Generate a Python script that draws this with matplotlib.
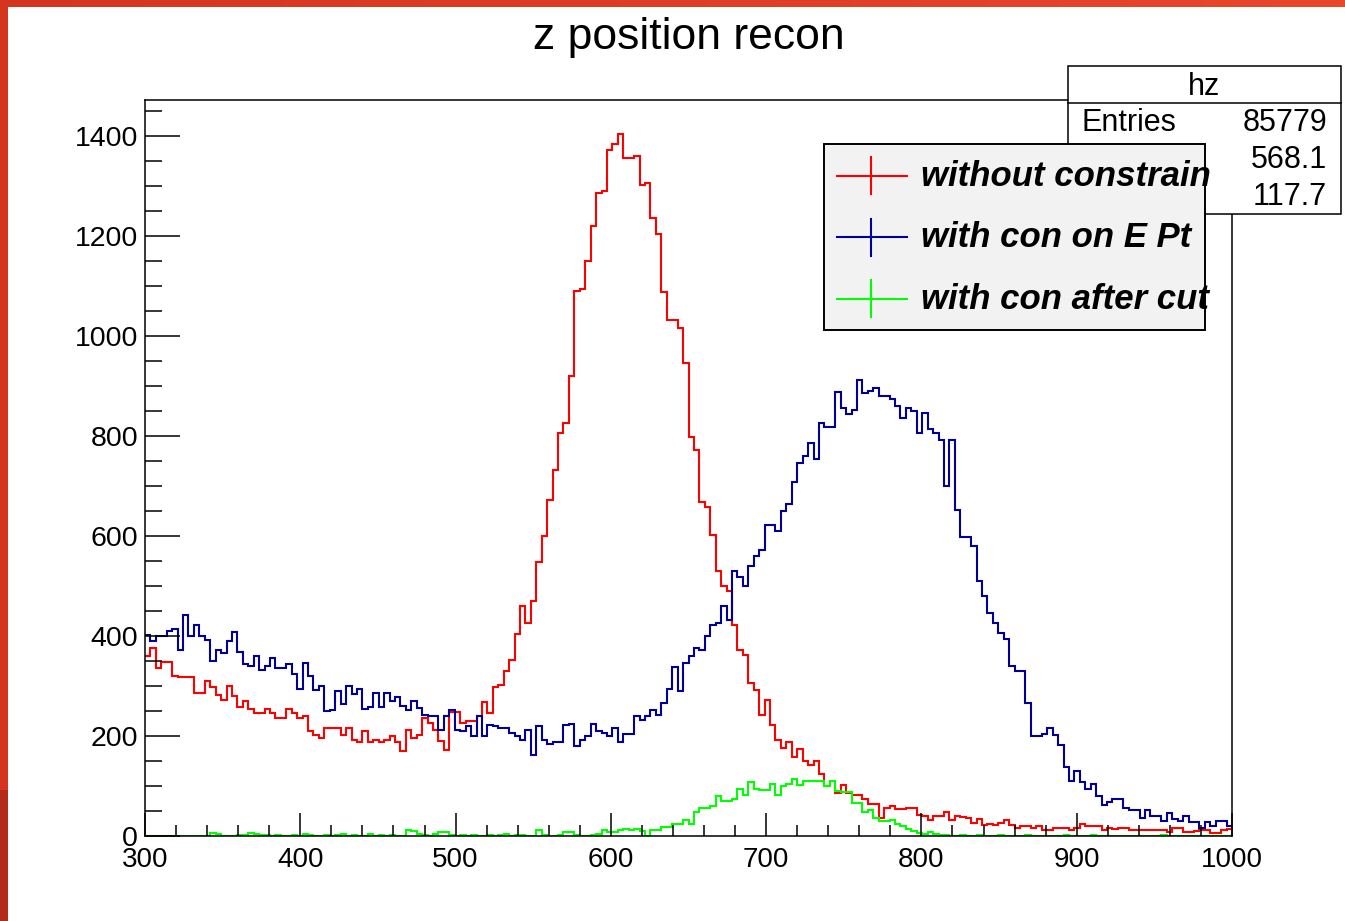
import numpy as np
import matplotlib
matplotlib.use('Agg')
from matplotlib import pyplot as plt
from matplotlib.patches import Rectangle

# hz : 200 bins between 300 and 1000
x_lo, x_hi, n_bins = 300, 1000, 200

# without constrain
red_counts = [
    360, 375, 335, 347, 347, 320, 317, 317, 317, 285,
    285, 309, 297, 282, 271, 300, 279, 257, 270, 254,
    245, 245, 253, 245, 235, 235, 254, 245, 235, 239,
    210, 202, 195, 215, 215, 215, 202, 215, 192, 187,
    210, 187, 192, 187, 192, 199, 187, 169, 212, 195,
    202, 235, 225, 212, 190, 171, 247, 247, 225, 229,
    229, 239, 267, 245, 297, 302, 329, 351, 403, 459,
    425, 469, 547, 599, 672, 731, 805, 825, 919, 1090,
    1093, 1149, 1220, 1285, 1290, 1372, 1384, 1403, 1355, 1355,
    1360, 1301, 1305, 1235, 1204, 1087, 1032, 1032, 1015, 945,
    797, 771, 667, 657, 602, 529, 499, 489, 422, 372,
    362, 305, 291, 242, 271, 222, 192, 175, 187, 157,
    174, 149, 141, 149, 124, 99, 109, 85, 102, 85,
    82, 82, 73, 64, 64, 35, 55, 59, 53, 53,
    55, 55, 42, 39, 32, 40, 40, 47, 31, 39,
    37, 35, 25, 34, 21, 24, 22, 25, 32, 22,
    15, 19, 19, 15, 19, 12, 12, 15, 15, 15,
    12, 15, 24, 19, 19, 19, 12, 15, 13, 15,
    15, 12, 12, 12, 12, 12, 12, 12, 8, 15,
    15, 8, 8, 10, 12, 12, 6, 6, 12, 14,
]

# with con on E Pt
blue_counts = [
    402, 389, 399, 399, 409, 413, 372, 442, 400, 422,
    400, 391, 349, 372, 365, 389, 407, 367, 344, 340,
    359, 332, 340, 355, 335, 335, 344, 324, 293, 345,
    319, 291, 300, 250, 252, 290, 264, 300, 284, 293,
    254, 257, 285, 257, 285, 269, 277, 260, 252, 269,
    255, 242, 239, 239, 212, 239, 251, 212, 209, 219,
    200, 240, 199, 222, 219, 215, 215, 205, 200, 192,
    212, 161, 219, 192, 184, 187, 187, 222, 224, 179,
    192, 200, 224, 209, 205, 199, 215, 187, 203, 203,
    239, 232, 239, 251, 241, 265, 293, 337, 289, 345,
    359, 375, 371, 399, 422, 425, 459, 432, 529, 517,
    500, 539, 559, 571, 622, 622, 609, 649, 664, 707,
    745, 759, 785, 753, 825, 817, 817, 887, 855, 844,
    852, 911, 885, 889, 895, 879, 879, 873, 860, 835,
    855, 849, 805, 845, 814, 805, 791, 700, 791, 652,
    597, 597, 579, 510, 480, 445, 425, 405, 394, 340,
    329, 329, 265, 200, 200, 204, 215, 201, 181, 137,
    110, 129, 107, 93, 103, 79, 62, 67, 74, 74,
    55, 51, 51, 35, 51, 40, 40, 29, 45, 33,
    29, 39, 27, 27, 15, 27, 19, 29, 29, 20,
]

# with con after cut
green_counts = [
    0, 0, 0, 0, 0, 0, 0, 0, 0, 0,
    0, 0, 6, 3, 0, 0, 0, 2, 1, 5,
    4, 1, 2, 0, 1, 0, 0, 1, 0, 3,
    1, 0, 0, 2, 0, 1, 3, 0, 2, 0,
    0, 3, 0, 1, 0, 2, 0, 0, 12, 9,
    4, 1, 0, 3, 7, 7, 1, 0, 2, 0,
    1, 0, 0, 2, 0, 1, 3, 0, 2, 1,
    0, 0, 12, 1, 0, 0, 2, 7, 7, 1,
    0, 0, 1, 3, 12, 8, 7, 11, 13, 11,
    13, 9, 0, 12, 12, 17, 17, 24, 24, 32,
    24, 47, 55, 55, 60, 79, 70, 70, 74, 93,
    82, 107, 93, 91, 91, 103, 82, 99, 103, 113,
    102, 109, 109, 109, 109, 99, 109, 89, 87, 87,
    65, 65, 47, 52, 35, 29, 29, 32, 24, 20,
    13, 9, 5, 3, 7, 3, 1, 1, 0, 0,
    2, 0, 0, 1, 0, 0, 0, 1, 0, 0,
    0, 0, 1, 0, 0, 0, 0, 0, 0, 2,
    0, 0, 0, 0, 1, 0, 0, 0, 0, 0,
    0, 0, 0, 0, 0, 0, 0, 1, 0, 0,
    0, 0, 0, 0, 0, 0, 0, 0, 0, 0,
]

legend_labels = ['without constrain', 'with con on E Pt', 'with con after cut']
line_colors = ['#ff0000', '#000099', '#00ff00']

stats_name = 'hz'
stats_labels = ['Entries', 'Mean', 'RMS']
stats_values = ['85779', '568.1', '117.7']

title = 'z position recon'

plt.rcParams['font.family'] = ['Liberation Sans', 'DejaVu Sans']

W, H = 1345, 921
fig = plt.figure(figsize=(W / 100, H / 100), dpi=100)
fig.patch.set_facecolor('white')

# main pad (pixel frame 145..1232 x 100..836)
ax = fig.add_axes([145 / W, 1 - 836 / H, (1232 - 145) / W, (836 - 100) / H])
edges = np.linspace(x_lo, x_hi, n_bins + 1)
for counts, col in zip([red_counts, blue_counts, green_counts], line_colors):
    ax.stairs(counts, edges, color=col, lw=1.5, baseline=None)

ax.set_xlim(x_lo, x_hi)
ax.set_ylim(0, 1471)
ax.set_xticks(np.arange(300, 1001, 100))
ax.set_xticks(np.arange(300, 1001, 20), minor=True)
ax.set_yticks(np.arange(0, 1401, 200))
ax.set_yticks(np.arange(0, 1451, 50), minor=True)
ax.tick_params(axis='x', which='major', direction='in', length=16.5, width=1.1,
               labelsize=20, pad=8, top=False)
ax.tick_params(axis='x', which='minor', direction='in', length=8, width=1.1, top=False)
ax.tick_params(axis='y', which='major', direction='in', length=25, width=1.1,
               labelsize=20.5, pad=5, right=False)
ax.tick_params(axis='y', which='minor', direction='in', length=12.5, width=1.1, right=False)
for sp in ax.spines.values():
    sp.set_linewidth(1.1)

# overlay in pixel coordinates for title, stats box, legend and frame border
ov = fig.add_axes([0, 0, 1, 1], zorder=10)
ov.set_xlim(0, W)
ov.set_ylim(H, 0)
ov.axis('off')

ov.text(689, 37, title, ha='center', va='center', fontsize=32)

# stats box
ov.add_patch(Rectangle((1068, 66), 273, 148, fc='white', ec='black', lw=1.1, zorder=2))
ov.plot([1068, 1341], [103, 103], color='black', lw=1.1, zorder=2)
ov.text(1204, 87, stats_name, ha='center', va='center', fontsize=22, zorder=2)
for k, (lab, val) in enumerate(zip(stats_labels, stats_values)):
    yy = 123 + 37 * k
    ov.text(1082, yy, lab, ha='left', va='center', fontsize=22, zorder=2)
    ov.text(1327, yy, val, ha='right', va='center', fontsize=22, zorder=2)

# legend
ov.add_patch(Rectangle((824, 144), 381, 186, fc='#f2f2f2', ec='black', lw=1.4, zorder=3))
for k, (lab, col) in enumerate(zip(legend_labels, line_colors)):
    yy = 176 + 61.5 * k
    ov.plot([837, 907], [yy, yy], color=col, lw=1.5, zorder=4)
    ov.plot([871, 871], [yy - 18.5, yy + 18.5], color=col, lw=1.5, zorder=4)
    ov.text(921, yy, lab, ha='left', va='center', fontsize=25,
            fontweight='bold', fontstyle='italic', zorder=4)

# red frame of the screenshot
grad = np.linspace(0, 1, 256)
c0 = np.array([0xd5, 0x34, 0x1f]) / 255
c1 = np.array([0xe8, 0x47, 0x2c]) / 255
band = (c0[None, :] * (1 - grad[:, None]) + c1[None, :] * grad[:, None])[None, :, :]
ov.imshow(band, extent=(0, W, 7, 0), aspect='auto', zorder=5)
ov.add_patch(Rectangle((0, 0), 8, 790, fc='#d5341f', ec='none', zorder=5))
ov.add_patch(Rectangle((0, 790), 8, H - 790, fc='#b3291a', ec='none', zorder=5))
ov.set_xlim(0, W)
ov.set_ylim(H, 0)

fig.savefig('out.png', dpi=100)
